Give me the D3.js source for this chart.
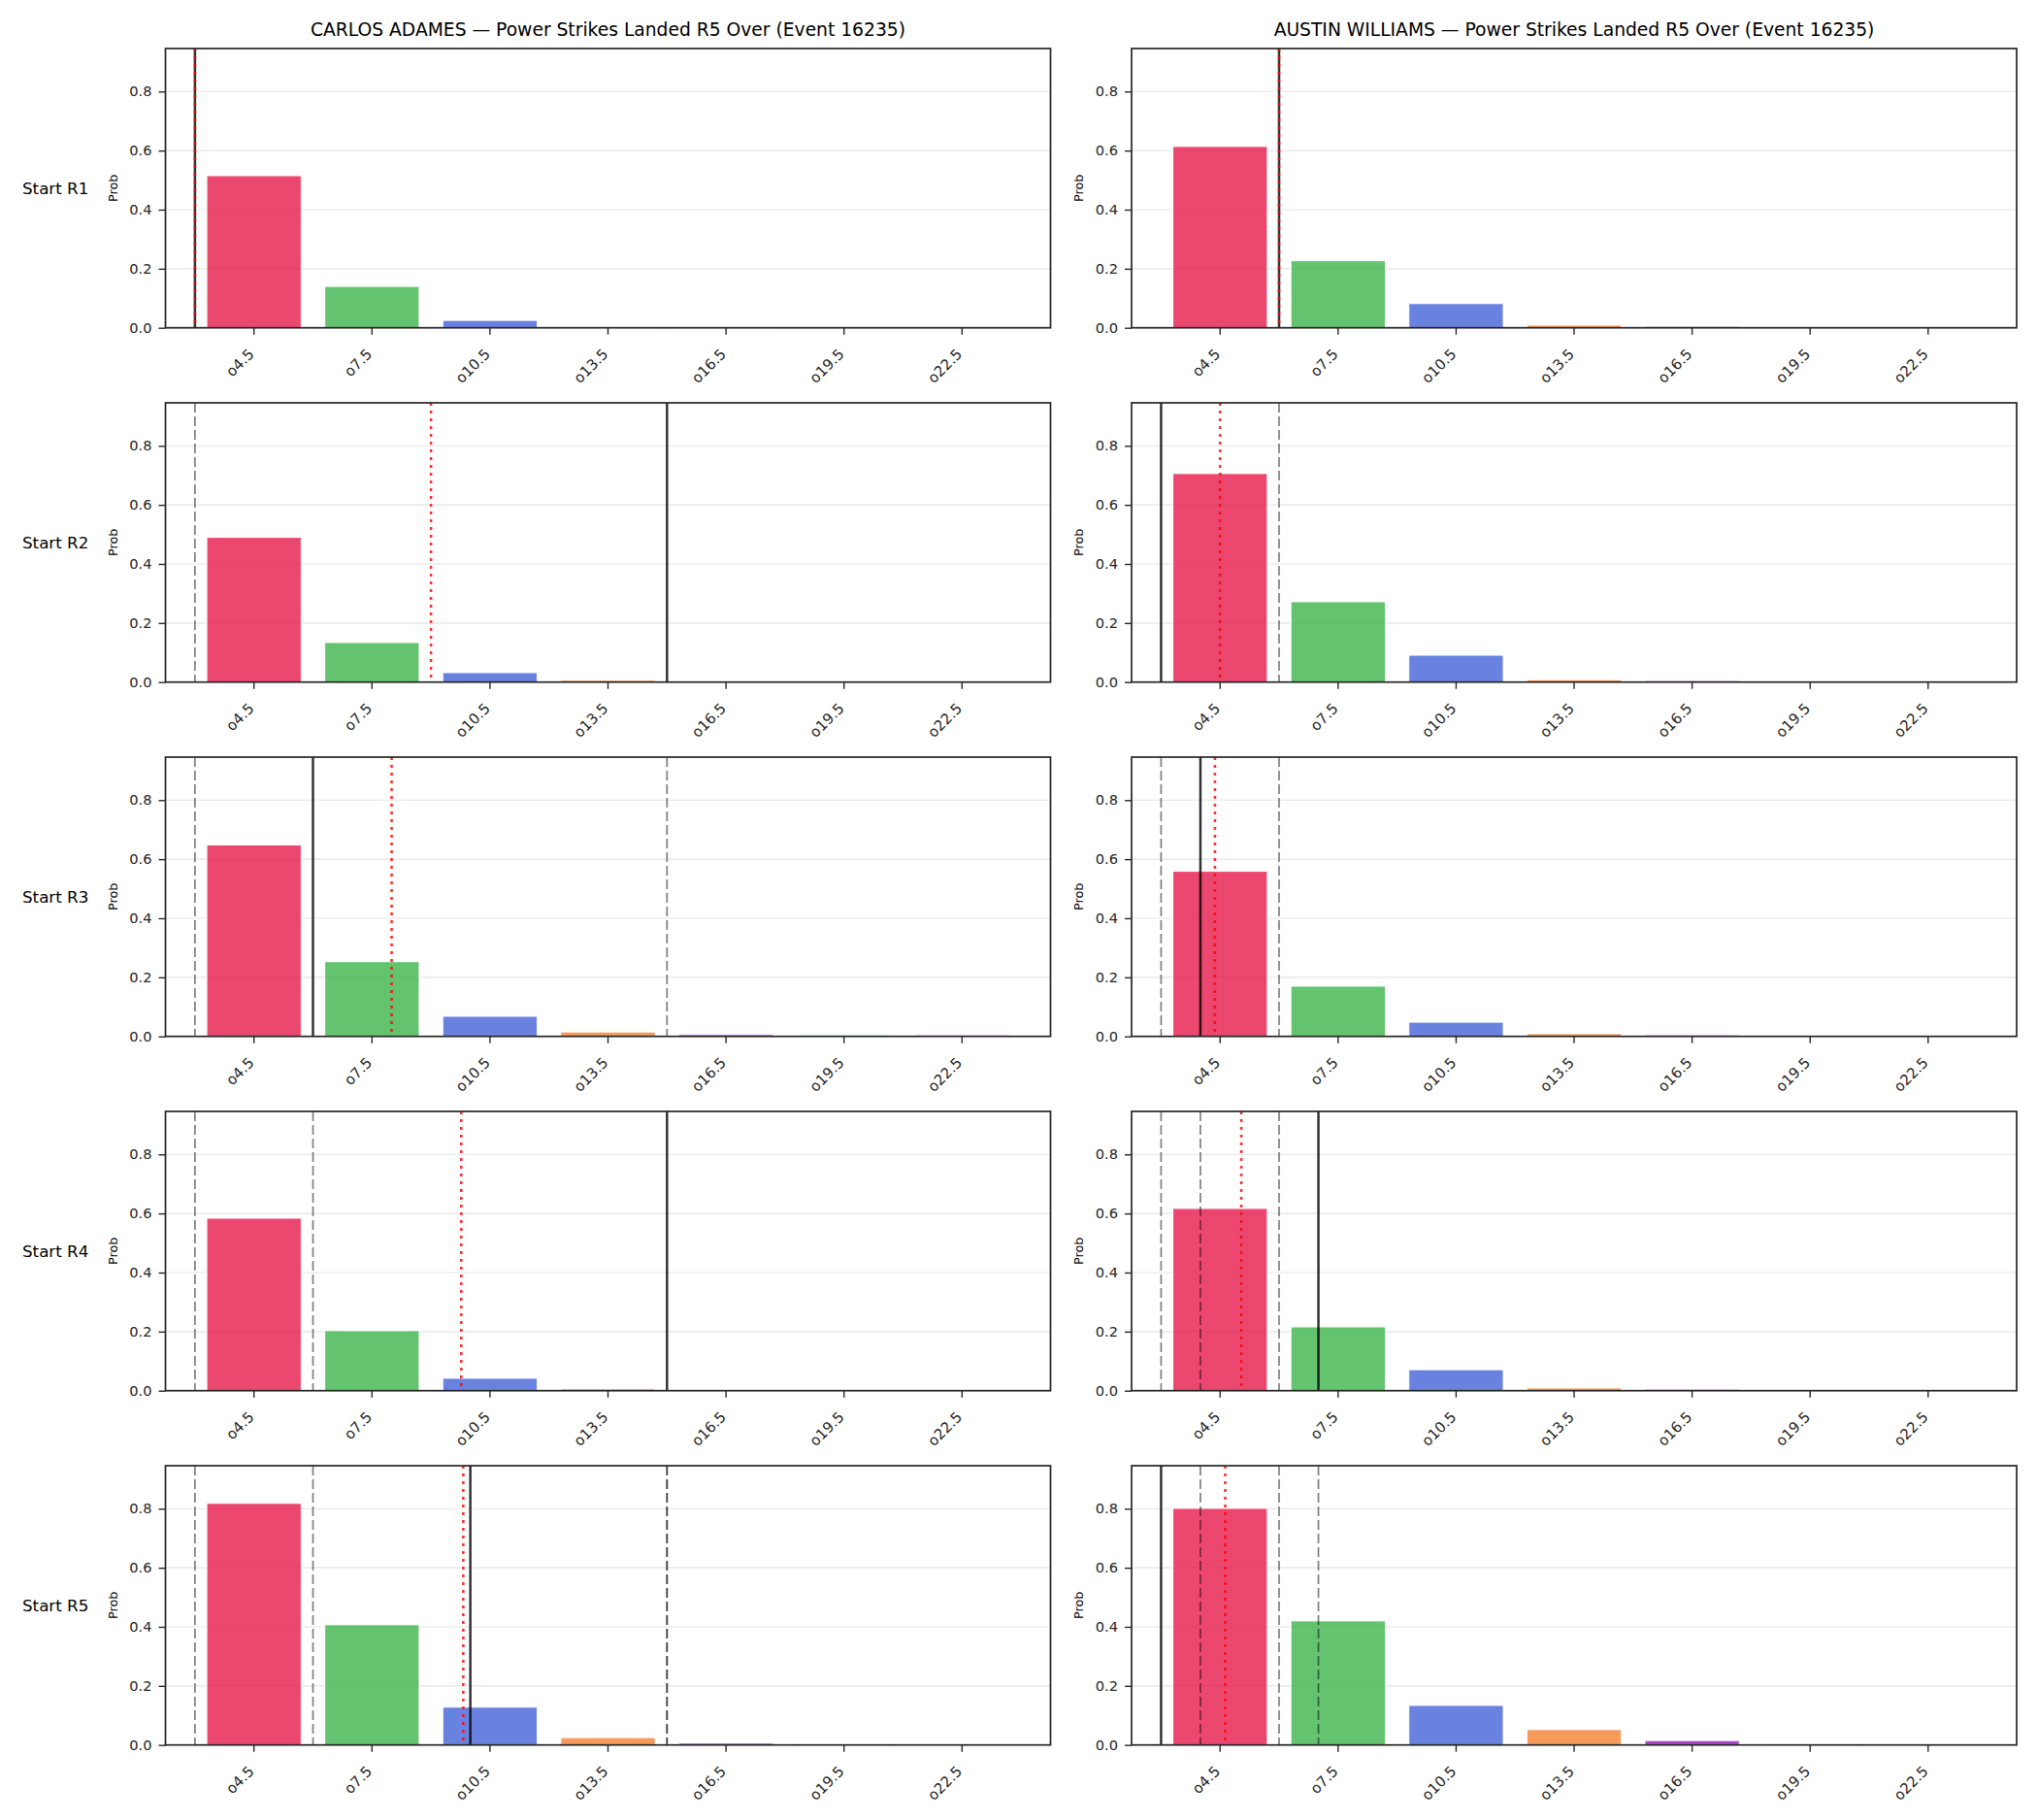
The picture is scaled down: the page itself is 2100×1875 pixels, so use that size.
<!DOCTYPE html>
<html>
<head>
<meta charset="utf-8">
<script src="https://cdn.jsdelivr.net/npm/d3@7"></script>
<style>
  html, body { margin: 0; padding: 0; background: #fff; }
  svg { display: block; font-family: "DejaVu Sans", sans-serif; }
</style>
</head>
<body>
<svg id="chart" width="2100" height="1875"></svg>
<script>
// ---------------- DATA ----------------
const fighters = ["CARLOS ADAMES", "AUSTIN WILLIAMS"];
const titleSuffix = " — Power Strikes Landed R5 Over (Event 16235)";
const rowLabels = ["Start R1", "Start R2", "Start R3", "Start R4", "Start R5"];
const lineLabels = ["o4.5", "o7.5", "o10.5", "o13.5", "o16.5", "o19.5", "o22.5"];
const lineValues = [4.5, 7.5, 10.5, 13.5, 16.5, 19.5, 22.5];
const yTicks = [0.0, 0.2, 0.4, 0.6, 0.8];
const barColors = ["#e6194b", "#3cb44b", "#4363d8", "#f58231", "#911eb4", "#42d4f4", "#f032e6"];

// probabilities per start round (rows) per line (columns)
const adamesProbs = [
  [0.515, 0.140, 0.025, 0.004, 0.004, 0.000, 0.000],
  [0.490, 0.134, 0.032, 0.006, 0.000, 0.000, 0.000],
  [0.648, 0.253, 0.068, 0.015, 0.006, 0.005, 0.005],
  [0.584, 0.203, 0.042, 0.006, 0.000, 0.000, 0.000],
  [0.818, 0.407, 0.128, 0.025, 0.006, 0.004, 0.000]
];
const williamsProbs = [
  [0.614, 0.227, 0.082, 0.009, 0.005, 0.000, 0.000],
  [0.706, 0.272, 0.091, 0.008, 0.005, 0.000, 0.000],
  [0.559, 0.170, 0.048, 0.009, 0.005, 0.000, 0.000],
  [0.617, 0.216, 0.071, 0.009, 0.005, 0.004, 0.000],
  [0.801, 0.420, 0.134, 0.052, 0.015, 0.004, 0.000]
];

// reference markers (in strikes) per row
const adamesSolid  = [[3], [15], [6], [15], [10.0]];
const adamesDashed = [[], [3], [3, 15], [3, 6], [3, 6, 15, 15]];
const adamesDotted = [[3], [9], [8.0], [9.77], [9.82]];
const williamsSolid  = [[6], [3], [4.0], [7.0], [3]];
const williamsDashed = [[], [6], [3, 6], [3, 4.0, 6], [4.0, 6, 7.0]];
const williamsDotted = [[6], [4.5], [4.37], [5.04], [4.63]];

const panels = [
  { probs: adamesProbs, solid: adamesSolid, dashed: adamesDashed, dotted: adamesDotted },
  { probs: williamsProbs, solid: williamsSolid, dashed: williamsDashed, dotted: williamsDotted }
];

// ---------------- LAYOUT ----------------
const colLeft = [170.5, 1166];
const plotW = 912;
const rowTop0 = 50, rowStep = 365, plotH = 287.7;
const yMax = 0.9455;
const ink = "#262626";

const svg = d3.select("#chart");

panels.forEach((panel, c) => {
  const left = colLeft[c], right = left + plotW;
  const x = d3.scaleBand().domain(lineLabels).range([left, right]).paddingInner(0.2).paddingOuter(0.35);
  // linear scale for markers expressed in strike counts
  const xs = d3.scaleLinear()
    .domain([lineValues[0] - 0.75 * 3, lineValues[lineValues.length - 1] + 0.75 * 3])
    .range([left, right]);

  // title
  svg.append("text")
    .attr("x", (left + right) / 2).attr("y", 37)
    .attr("text-anchor", "middle")
    .attr("font-size", "18.7px").attr("fill", "#000")
    .text(fighters[c] + titleSuffix);

  panel.probs.forEach((vals, r) => {
    const top = rowTop0 + r * rowStep, bottom = top + plotH;
    const y = d3.scaleLinear().domain([0, yMax]).range([bottom, top]);
    const g = svg.append("g");

    // grid
    g.selectAll(".grid").data(yTicks).join("line")
      .attr("x1", left).attr("x2", right)
      .attr("y1", d => y(d)).attr("y2", d => y(d))
      .attr("stroke", "#e5e5e5").attr("stroke-width", 1.2);

    // bars
    g.selectAll(".bar").data(vals).join("rect")
      .attr("x", (d, i) => x(lineLabels[i]))
      .attr("width", x.bandwidth())
      .attr("y", d => y(d))
      .attr("height", d => Math.max(0, bottom - y(d)))
      .attr("fill", (d, i) => barColors[i])
      .attr("fill-opacity", 0.8)
      .attr("stroke", "#fff").attr("stroke-width", d => d > 0 ? 1 : 0);

    // dashed markers
    g.selectAll(".dash").data(panel.dashed[r]).join("line")
      .attr("x1", d => xs(d)).attr("x2", d => xs(d))
      .attr("y1", top).attr("y2", bottom)
      .attr("stroke", "#000").attr("stroke-opacity", 0.5)
      .attr("stroke-width", 1.7).attr("stroke-dasharray", "10,4");

    // solid markers
    g.selectAll(".solid").data(panel.solid[r]).join("line")
      .attr("x1", d => xs(d)).attr("x2", d => xs(d))
      .attr("y1", top).attr("y2", bottom)
      .attr("stroke", "#000").attr("stroke-opacity", 0.8)
      .attr("stroke-width", 2.5);

    // dotted markers
    g.selectAll(".dot").data(panel.dotted[r]).join("line")
      .attr("x1", d => xs(d)).attr("x2", d => xs(d))
      .attr("y1", top).attr("y2", bottom)
      .attr("stroke", "#ff0000").attr("stroke-opacity", 0.8)
      .attr("stroke-width", 2.6).attr("stroke-dasharray", "3,5");

    // frame
    g.append("rect")
      .attr("x", left).attr("y", top).attr("width", plotW).attr("height", plotH)
      .attr("fill", "none").attr("stroke", ink).attr("stroke-width", 1.7);

    // y axis
    const ya = g.append("g").attr("transform", `translate(${left},0)`)
      .call(d3.axisLeft(y).tickValues(yTicks).tickFormat(d3.format(".1f")).tickSize(7).tickPadding(7));
    ya.select(".domain").remove();
    ya.selectAll(".tick line").attr("stroke", ink).attr("stroke-width", 1.4);
    ya.selectAll(".tick text").attr("font-size", "14.6px").attr("fill", ink).attr("font-family", "DejaVu Sans");

    // x axis
    const xa = g.append("g").attr("transform", `translate(0,${bottom})`)
      .call(d3.axisBottom(x).tickSize(7).tickPadding(7));
    xa.select(".domain").remove();
    xa.selectAll(".tick line").attr("stroke", ink).attr("stroke-width", 1.4);
    xa.selectAll(".tick text")
      .attr("font-size", "15px").attr("fill", ink).attr("font-family", "DejaVu Sans")
      .attr("text-anchor", "end")
      .attr("y", 0).attr("dy", 0)
      .attr("transform", "translate(1,28) rotate(-45)");

    // y label
    const midY = (top + bottom) / 2;
    g.append("text")
      .attr("transform", `translate(${left - 50},${midY}) rotate(-90)`)
      .attr("text-anchor", "middle")
      .attr("font-size", "12.8px").attr("fill", "#000")
      .text("Prob");

    // row label (left column only)
    if (c === 0) {
      g.append("text")
        .attr("x", 23).attr("y", midY)
        .attr("dy", "0.35em")
        .attr("font-size", "16.7px").attr("fill", "#000")
        .text(rowLabels[r]);
    }
  });
});
</script>
</body>
</html>
